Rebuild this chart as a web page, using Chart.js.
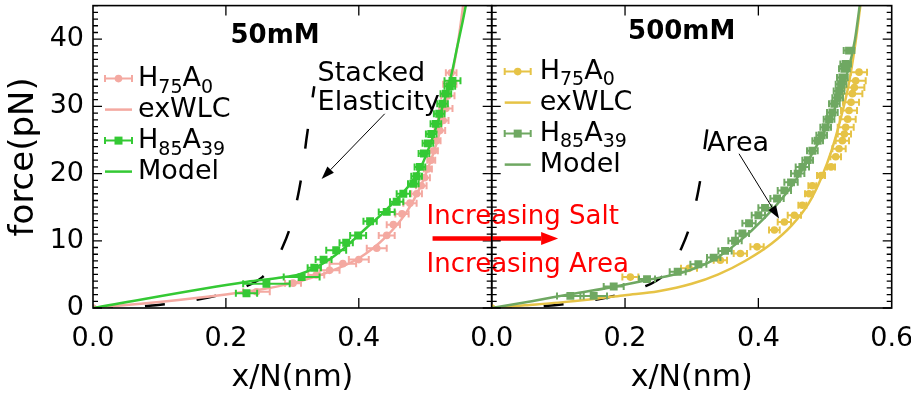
<!DOCTYPE html>
<html>
<head>
<meta charset="utf-8">
<script src="https://cdn.jsdelivr.net/npm/chart.js@4.4.1/dist/chart.umd.min.js"></script>
<style>
  html, body { margin: 0; padding: 0; background: #fff; }
  #wrap { position: relative; width: 911px; height: 400px; }
  #wrap canvas { position: absolute; left: 0; top: 0; }
</style>
</head>
<body>
<div id="wrap">
  <canvas id="lowSalt" width="911" height="400"></canvas>
  <canvas id="highSalt" width="911" height="400"></canvas>
</div>
<script>
// ---------- tick labels ----------
const yTickLabels = ['0', '10', '20', '30', '40'];
const lowXTickLabels = ['0.0', '0.2', '0.4'];
const highXTickLabels = ['0.0', '0.2', '0.4', '0.6'];

// ---------- 50 mM ----------
const lowH75X = [0, 0.246, 0.301, 0.336, 0.356, 0.376, 0.400, 0.427, 0.442, 0.452, 0.465, 0.477, 0.487, 0.494, 0.499, 0.504, 0.509, 0.513, 0.517, 0.522, 0.527, 0.531, 0.534, 0.537, 0.539];
const lowH75F = [0, 2.4, 3.7, 4.9, 5.6, 6.6, 7.2, 8.9, 10.8, 12.4, 14.0, 15.6, 17.0, 18.2, 19.4, 20.7, 22.0, 23.4, 24.9, 26.4, 27.9, 29.7, 31.6, 33.3, 35.0];
const lowH75Err = [0, 0.02, 0.012, 0.012, 0.015, 0.02, 0.015, 0.015, 0.012, 0.01, 0.01, 0.01, 0.008, 0.008, 0.008, 0.006, 0.006, 0.006, 0.006, 0.008, 0.008, 0.01, 0.01, 0.01, 0.008];

const lowH85X = [0.231, 0.261, 0.314, 0.333, 0.347, 0.366, 0.381, 0.399, 0.417, 0.442, 0.457, 0.467, 0.482, 0.487, 0.492, 0.498, 0.504, 0.509, 0.516, 0.521, 0.526, 0.531, 0.537, 0.541];
const lowH85F = [2.2, 3.6, 4.6, 6.0, 7.2, 8.6, 9.7, 10.8, 12.9, 14.3, 15.8, 17.0, 18.5, 19.6, 21.0, 23.0, 24.5, 25.9, 27.4, 28.9, 30.4, 31.9, 33.0, 33.8];
const lowH85Err = [0.016, 0.035, 0.027, 0.01, 0.012, 0.015, 0.01, 0.012, 0.01, 0.012, 0.01, 0.01, 0.008, 0.008, 0.008, 0.008, 0.008, 0.008, 0.008, 0.008, 0.008, 0.008, 0.008, 0.012];

const lowWlcX = [0, 0.1, 0.2, 0.25, 0.3, 0.35, 0.4, 0.44, 0.47, 0.49, 0.505, 0.52, 0.532, 0.542, 0.55, 0.557];
const lowWlcF = [0, 0.9, 2.0, 2.7, 3.7, 5.2, 7.4, 10.5, 14.0, 17.5, 21, 25.5, 30.5, 35.5, 40, 45];

const lowModelX = [0, 0.232, 0.28, 0.31, 0.335, 0.36, 0.385, 0.41, 0.435, 0.46, 0.48, 0.495, 0.508, 0.52, 0.53, 0.54, 0.548, 0.556, 0.561];
const lowModelF = [0, 3.9, 4.5, 5.0, 6.0, 7.5, 9.5, 11.8, 14, 16.5, 18.8, 21.3, 24.5, 28, 31.3, 35, 38.8, 42.5, 45];

// stacked elasticity reference curve (both panels)
const stackedX = [0, 0.04, 0.08, 0.12, 0.16, 0.20, 0.23, 0.255, 0.272, 0.285, 0.295, 0.303, 0.31, 0.316, 0.321, 0.327, 0.333];
const stackedF = [0, 0.08, 0.3, 0.7, 1.3, 2.2, 3.2, 4.6, 6.5, 9.0, 11.5, 14.3, 17.5, 21, 25, 29, 33];

// ---------- 500 mM ----------
const highH75X = [0, 0.208, 0.296, 0.343, 0.373, 0.398, 0.424, 0.439, 0.454, 0.466, 0.476, 0.481, 0.494, 0.509, 0.516, 0.521, 0.526, 0.529, 0.531, 0.534, 0.536, 0.539, 0.541, 0.544, 0.546, 0.551];
const highH75F = [0, 4.6, 5.9, 7.1, 8.1, 9.1, 11.6, 12.8, 13.8, 15.3, 17.0, 18.2, 19.7, 21.0, 22.5, 23.7, 24.9, 25.9, 26.9, 28.1, 29.4, 30.6, 31.9, 32.8, 33.8, 35.1];
const highH75Err = [0, 0.012, 0.012, 0.01, 0.01, 0.01, 0.008, 0.01, 0.01, 0.006, 0.006, 0.006, 0.006, 0.006, 0.008, 0.01, 0.01, 0.01, 0.012, 0.012, 0.012, 0.012, 0.015, 0.015, 0.015, 0.012];

const highH85X = [0.118, 0.153, 0.183, 0.233, 0.279, 0.31, 0.333, 0.35, 0.365, 0.376, 0.386, 0.40, 0.41, 0.428, 0.439, 0.449, 0.459, 0.466, 0.474, 0.481, 0.489, 0.495, 0.501, 0.506, 0.511, 0.514, 0.519, 0.521, 0.524, 0.526, 0.529, 0.531, 0.536];
const highH85F = [1.8, 1.8, 3.2, 4.3, 5.4, 6.5, 7.5, 8.5, 10.0, 11.1, 12.6, 13.8, 14.9, 16.3, 17.5, 18.7, 20.0, 21.0, 22.0, 23.4, 24.9, 25.7, 26.9, 28.1, 29.1, 30.4, 31.3, 32.3, 33.3, 34.3, 35.6, 36.3, 38.3];
const highH85Err = [0.02, 0.02, 0.015, 0.012, 0.012, 0.012, 0.01, 0.01, 0.01, 0.01, 0.01, 0.01, 0.01, 0.01, 0.01, 0.01, 0.01, 0.01, 0.008, 0.008, 0.008, 0.008, 0.008, 0.008, 0.008, 0.008, 0.008, 0.008, 0.008, 0.008, 0.008, 0.008, 0.008];

const highWlcX = [0, 0.05, 0.1, 0.15, 0.2, 0.25, 0.3, 0.34, 0.38, 0.42, 0.45, 0.475, 0.495, 0.51, 0.523, 0.535, 0.545, 0.553];
const highWlcF = [0, 0.4, 0.8, 1.3, 1.9, 2.5, 3.6, 5.0, 7.0, 9.6, 12.3, 15.5, 19.5, 23.5, 28, 33, 39, 45];

const highModelX = [0, 0.06, 0.12, 0.18, 0.23, 0.29, 0.33, 0.37, 0.41, 0.445, 0.475, 0.5, 0.52, 0.535, 0.545, 0.552];
const highModelF = [0, 1.0, 2.1, 3.1, 4.1, 5.4, 7.0, 9.8, 13.5, 17.5, 22, 26.5, 31, 35.5, 40, 45];

// ---------- styling ----------
const FONT = "'DejaVu Sans', sans-serif";
const PINK = '#f4a9a1';
const GREEN = '#34c934';
const YELLOW = '#e6c346';
const OLIVE = '#6fa862';

Chart.defaults.font.family = FONT;
Chart.defaults.color = '#000';

const pts = (xs, ys) => xs.map((x, i) => ({ x, y: ys[i] }));

// horizontal error bars, drawn just before the owning dataset's markers
const errorBars = {
  id: 'errorBars',
  beforeDatasetDraw(chart, args) {
    const ds = chart.data.datasets[args.index];
    if (!ds.xErr) return;
    const { ctx, chartArea: a } = chart;
    const xs = chart.scales.x, ys = chart.scales.y;
    ctx.save();
    ctx.beginPath();
    ctx.rect(a.left, a.top, a.right - a.left, a.bottom - a.top);
    ctx.clip();
    ctx.strokeStyle = ds.borderColor;
    ctx.lineWidth = 2;
    const cap = 3.5;
    ds.data.forEach((p, i) => {
      const e = ds.xErr[i];
      if (!e) return;
      const y = ys.getPixelForValue(p.y);
      const x0 = xs.getPixelForValue(p.x - e);
      const x1 = xs.getPixelForValue(p.x + e);
      ctx.beginPath();
      ctx.moveTo(x0, y); ctx.lineTo(x1, y);
      ctx.moveTo(x0, y - cap); ctx.lineTo(x0, y + cap);
      ctx.moveTo(x1, y - cap); ctx.lineTo(x1, y + cap);
      ctx.stroke();
    });
    ctx.restore();
  }
};

// box frame with inward major/minor ticks on all four sides
const frame = {
  id: 'frame',
  afterDatasetsDraw(chart, args, o) {
    const { ctx, chartArea: a } = chart;
    const xs = chart.scales.x, ys = chart.scales.y;
    ctx.save();
    ctx.strokeStyle = '#000';
    ctx.lineWidth = 1.3;
    ctx.beginPath();
    for (let k = 0; k * o.yMinor <= ys.max + 1e-9; k++) {
      const v = k * o.yMinor;
      const y = ys.getPixelForValue(v);
      const len = (k % o.yMinorPerMajor === 0) ? o.yMajorLen : o.yMinorLen;
      ctx.moveTo(a.left, y); ctx.lineTo(a.left + len, y);
      ctx.moveTo(a.right, y); ctx.lineTo(a.right - len, y);
    }
    xs.ticks.forEach(t => {
      if (t.value <= xs.min + 1e-9 || t.value >= xs.max - 1e-9) return;
      const x = xs.getPixelForValue(t.value);
      ctx.moveTo(x, a.bottom); ctx.lineTo(x, a.bottom - o.xLen);
      ctx.moveTo(x, a.top); ctx.lineTo(x, a.top + o.xLen);
    });
    ctx.stroke();
    ctx.lineWidth = 1.6;
    ctx.strokeRect(a.left, a.top, a.right - a.left, a.bottom - a.top);
    ctx.restore();
  }
};

// text with _{...} subscripts
function drawRich(ctx, text, x, y, font, subFont, drop) {
  const parts = text.split(/(_\{[^}]*\})/).filter(Boolean);
  for (const p of parts) {
    const sub = p.startsWith('_{');
    const s = sub ? p.slice(2, -1) : p;
    ctx.font = sub ? subFont : font;
    ctx.fillText(s, x, y + (sub ? drop : 0));
    x += ctx.measureText(s).width;
  }
}

// in-plot legend with error-bar symbols
const legendBlock = {
  id: 'legendBlock',
  afterDatasetsDraw(chart, args, o) {
    const { ctx, chartArea: a } = chart;
    const items = chart.data.datasets.filter(d => d.legendText);
    ctx.save();
    ctx.textAlign = 'left';
    ctx.textBaseline = 'alphabetic';
    items.forEach((ds, i) => {
      const base = a.top + o.top + i * o.rowGap;
      const sy = base - o.symbolRise;
      const x0 = a.left + o.left, x1 = x0 + o.symbolWidth;
      ctx.strokeStyle = ds.borderColor;
      ctx.fillStyle = ds.borderColor;
      if (ds.xErr) {
        ctx.lineWidth = 2;
        ctx.beginPath();
        ctx.moveTo(x0, sy); ctx.lineTo(x1, sy);
        ctx.moveTo(x0, sy - 3.5); ctx.lineTo(x0, sy + 3.5);
        ctx.moveTo(x1, sy - 3.5); ctx.lineTo(x1, sy + 3.5);
        ctx.stroke();
        const cx = (x0 + x1) / 2;
        ctx.beginPath();
        if (ds.pointStyle === 'rect') ctx.rect(cx - 4, sy - 4, 8, 8);
        else ctx.arc(cx, sy, 3.8, 0, Math.PI * 2);
        ctx.fill();
      } else {
        ctx.lineWidth = ds.borderWidth;
        ctx.beginPath();
        ctx.moveTo(x0, sy); ctx.lineTo(x1, sy);
        ctx.stroke();
      }
      ctx.fillStyle = '#000';
      drawRich(ctx, ds.legendText, x1 + o.textGap, base, o.font, o.subFont, o.subDrop);
    });
    ctx.restore();
  }
};

// titles, labels and arrows placed in data coordinates
const notes = {
  id: 'notes',
  afterDraw(chart, args, o) {
    const { ctx } = chart;
    const xs = chart.scales.x, ys = chart.scales.y;
    const px = p => [xs.getPixelForValue(p[0]), ys.getPixelForValue(p[1])];
    ctx.save();
    (o.texts || []).forEach(t => {
      const [x, y] = px(t.at);
      ctx.font = t.font;
      ctx.fillStyle = t.color || '#000';
      ctx.textAlign = t.align || 'left';
      ctx.textBaseline = 'alphabetic';
      ctx.fillText(t.text, x, y);
    });
    (o.arrows || []).forEach(ar => {
      const [x0, y0] = px(ar.from), [x1, y1] = px(ar.to);
      const ang = Math.atan2(y1 - y0, x1 - x0);
      const bx = x1 - ar.head * Math.cos(ang), by = y1 - ar.head * Math.sin(ang);
      ctx.strokeStyle = ar.color; ctx.fillStyle = ar.color; ctx.lineWidth = ar.width;
      ctx.beginPath(); ctx.moveTo(x0, y0); ctx.lineTo(bx, by); ctx.stroke();
      ctx.beginPath();
      ctx.moveTo(x1, y1);
      ctx.lineTo(bx + ar.half * Math.sin(ang), by - ar.half * Math.cos(ang));
      ctx.lineTo(bx - ar.half * Math.sin(ang), by + ar.half * Math.cos(ang));
      ctx.closePath(); ctx.fill();
    });
    ctx.restore();
  }
};

const tickFont = { family: FONT, size: 27 };

function xScale(labels) {
  return {
    type: 'linear', min: 0, max: 0.6,
    afterBuildTicks: s => { s.ticks = labels.map(t => ({ value: +t })); },
    afterFit: s => { s.height = 92; s.paddingLeft = 0; s.paddingRight = 0; },
    ticks: { font: tickFont, padding: 15, maxRotation: 0, autoSkip: false, callback: (v, i) => labels[i] },
    grid: { display: false, drawTicks: false },
    border: { display: false },
    title: { display: true, text: 'x/N(nm)', font: { family: FONT, size: 30 }, padding: { top: 0, bottom: 4 } }
  };
}

function lineSet(label, xs, ys, color, order) {
  return { label, legendText: label, data: pts(xs, ys), borderColor: color, backgroundColor: color,
           borderWidth: 2.5, pointRadius: 0, cubicInterpolationMode: 'monotone', order };
}
function markSet(label, legendText, xs, ys, err, color, style, r, order) {
  return { label, legendText, data: pts(xs, ys), xErr: err, showLine: false, borderColor: color,
           backgroundColor: color, pointStyle: style, pointRadius: r, pointBorderWidth: 0, order };
}
function stackedSet(n) {
  return { label: 'Stacked Elasticity', data: pts(stackedX.slice(0, n), stackedF.slice(0, n)),
           borderColor: '#000', borderWidth: 2.5, borderDash: [20, 32], pointRadius: 0,
           cubicInterpolationMode: 'monotone', order: 9 };
}

const commonPlugins = { legend: { display: false }, tooltip: { enabled: false } };
const frameOpts = { yMinor: 1, yMinorPerMajor: 10, yMajorLen: 9, yMinorLen: 5, xLen: 10 };

// ---------- 50 mM panel ----------
new Chart(document.getElementById('lowSalt'), {
  type: 'line',
  data: {
    datasets: [
      markSet('H75A0', 'H_{75}A_{0}', lowH75X, lowH75F, lowH75Err, PINK, 'circle', 3.8, 3),
      lineSet('exWLC', lowWlcX, lowWlcF, PINK, 4),
      markSet('H85A39', 'H_{85}A_{39}', lowH85X, lowH85F, lowH85Err, GREEN, 'rect', 5.6, 1),
      lineSet('Model', lowModelX, lowModelF, GREEN, 2),
      stackedSet(stackedX.length)
    ]
  },
  options: {
    responsive: false, animation: false, devicePixelRatio: 1, events: [],
    layout: { padding: { top: 5, right: 419.3, left: 0, bottom: 0 } },
    scales: {
      x: xScale(lowXTickLabels),
      y: {
        type: 'linear', min: 0, max: 45,
        afterBuildTicks: s => { s.ticks = yTickLabels.map(t => ({ value: +t })); },
        afterFit: s => { s.width = 93; s.paddingTop = 0; s.paddingBottom = 0; },
        ticks: { font: tickFont, padding: 9, callback: (v, i) => yTickLabels[i] },
        grid: { display: false, drawTicks: false },
        border: { display: false },
        title: { display: true, text: 'force(pN)', font: { family: FONT, size: 34 }, padding: { top: 4, bottom: 0 } }
      }
    },
    plugins: {
      ...commonPlugins,
      frame: frameOpts,
      legendBlock: { left: 12, top: 80, rowGap: 31, symbolRise: 7, symbolWidth: 27, textGap: 6,
                     font: `27px ${FONT}`, subFont: `19px ${FONT}`, subDrop: 7 },
      notes: {
        texts: [
          { text: '50mM', at: [0.274, 39.5], font: `bold 26px ${FONT}`, align: 'center' },
          { text: 'Stacked', at: [0.338, 33.8], font: `27px ${FONT}` },
          { text: 'Elasticity', at: [0.338, 29.4], font: `27px ${FONT}` },
          { text: 'Increasing Salt', at: [0.502, 12.5], font: `26px ${FONT}`, color: '#ff0000' },
          { text: 'Increasing Area', at: [0.502, 5.3], font: `26px ${FONT}`, color: '#ff0000' }
        ],
        arrows: [
          { from: [0.439, 28.9], to: [0.344, 19.2], color: '#000', width: 1, head: 13, half: 4.5 },
          { from: [0.511, 10.34], to: [0.70, 10.34], color: '#ff0000', width: 4.5, head: 17, half: 6.5 }
        ]
      }
    }
  },
  plugins: [errorBars, frame, legendBlock, notes]
});

// ---------- 500 mM panel ----------
new Chart(document.getElementById('highSalt'), {
  type: 'line',
  data: {
    datasets: [
      markSet('H75A0', 'H_{75}A_{0}', highH75X, highH75F, highH75Err, YELLOW, 'circle', 3.8, 3),
      lineSet('exWLC', highWlcX, highWlcF, YELLOW, 4),
      markSet('H85A39', 'H_{85}A_{39}', highH85X, highH85F, highH85Err, OLIVE, 'rect', 5.6, 1),
      lineSet('Model', highModelX, highModelF, OLIVE, 2),
      stackedSet(16)
    ]
  },
  options: {
    responsive: false, animation: false, devicePixelRatio: 1, events: [],
    layout: { padding: { top: 5, right: 19.3, left: 491.7, bottom: 0 } },
    scales: {
      x: xScale(highXTickLabels),
      y: { type: 'linear', min: 0, max: 45, display: false }
    },
    plugins: {
      ...commonPlugins,
      frame: frameOpts,
      legendBlock: { left: 13, top: 73, rowGap: 31, symbolRise: 7, symbolWidth: 26, textGap: 9,
                     font: `27px ${FONT}`, subFont: `19px ${FONT}`, subDrop: 6 },
      notes: {
        texts: [
          { text: '500mM', at: [0.285, 40.0], font: `bold 26px ${FONT}`, align: 'center' },
          { text: 'Area', at: [0.323, 23.3], font: `27px ${FONT}` }
        ],
        arrows: [
          { from: [0.371, 22.95], to: [0.431, 13.3], color: '#000', width: 1, head: 13, half: 4.5 }
        ]
      }
    }
  },
  plugins: [errorBars, frame, legendBlock, notes]
});
</script>
</body>
</html>
